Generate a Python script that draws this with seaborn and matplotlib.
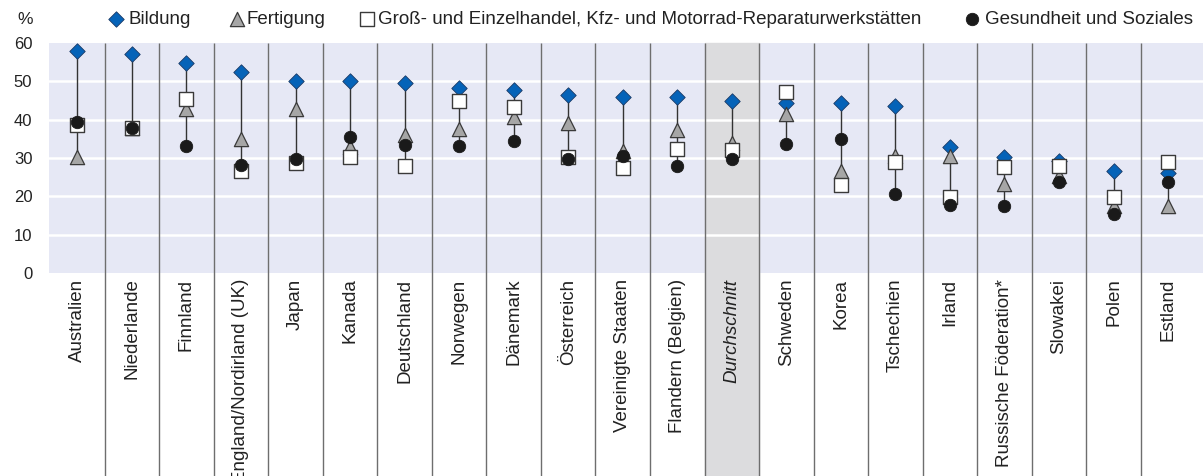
import numpy as np
import pandas as pd
import matplotlib.pyplot as plt
import seaborn as sns

# Data
countries = ["Australien", "Niederlande", "Finnland", "England/Nordirland (UK)", "Japan",
             "Kanada", "Deutschland", "Norwegen", "Dänemark", "Österreich",
             "Vereinigte Staaten", "Flandern (Belgien)", "Durchschnitt", "Schweden",
             "Korea", "Tschechien", "Irland", "Russische Föderation*", "Slowakei",
             "Polen", "Estland"]
bildung = [57.8, 57.2, 54.9, 52.4, 50.1, 50.0, 49.5, 48.2, 47.8, 46.4, 45.8,
           45.8, 44.8, 44.3, 44.3, 43.6, 32.8, 30.2, 29.1, 26.5, 26.0]
fertigung = [30.3, 37.8, 42.7, 35.0, 42.9, 33.0, 36.0, 37.5, 40.8, 39.2, 31.7,
             37.2, 33.8, 41.4, 26.5, 30.5, 30.5, 23.2, 25.2, 17.5, 17.5]
handel = [38.5, 37.7, 45.4, 26.5, 28.6, 30.2, 27.8, 45.0, 43.3, 30.2, 27.3,
          32.3, 32.1, 47.3, 22.9, 29.0, 19.9, 27.6, 27.8, 19.9, 29.0]
gesundheit = [39.3, 37.7, 33.2, 28.2, 29.8, 35.4, 33.4, 33.2, 34.5, 29.7, 30.6,
              27.8, 29.7, 33.6, 35.0, 20.5, 17.8, 17.5, 23.8, 15.3, 23.8]

labels = ["Bildung", "Fertigung",
          "Groß- und Einzelhandel, Kfz- und Motorrad-Reparaturwerkstätten",
          "Gesundheit und Soziales"]

df = pd.DataFrame({"land": countries, "pos": np.arange(len(countries)),
                   labels[0]: bildung, labels[1]: fertigung,
                   labels[2]: handel, labels[3]: gesundheit})
long = df.melt(id_vars=["land", "pos"], var_name="bereich", value_name="wert")

sns.set_style("white")
plt.rcParams["font.family"] = ["Liberation Sans", "DejaVu Sans"]
txt = "#222222"

W, H = 1203, 476
fig = plt.figure(figsize=(W / 100, H / 100), dpi=100)
ax = fig.add_axes([49 / W, (H - 273) / H, (W - 49) / W, 230 / H])
ax.set_facecolor("#E6E8F5")
ax.set_xlim(-0.52, 20.64)
ax.set_ylim(0, 60)

for y in [10, 20, 30, 40, 50]:
    ax.axhline(y, color="white", lw=1.8, zorder=1)

low = -(H - 273) / 230
avg = countries.index("Durchschnitt")
ax.axvspan(avg - 0.5, avg + 0.5, ymin=low, ymax=1, color="#DCDCDE",
           zorder=0.5, clip_on=False)
ax.vlines(np.arange(len(countries) - 1) + 0.5, low, 1,
          transform=ax.get_xaxis_transform(), colors="#6e6e6e", lw=1,
          clip_on=False, zorder=1.5)

# range lines
ax.vlines(df["pos"], df[labels].min(axis=1), df[labels].max(axis=1),
          colors="#333333", lw=1, zorder=2)

styles = {
    labels[0]: dict(marker="D", s=62, color="#0563B8", edgecolor="#1b3a66", linewidth=0.6),
    labels[1]: dict(marker="^", s=105, color="#A6A6A6", edgecolor="#3a3a3a", linewidth=0.9),
    labels[2]: dict(marker="s", s=95, color="white", edgecolor="#3a3a3a", linewidth=1.0),
    labels[3]: dict(marker="o", s=80, color="#1a1a1a", edgecolor="#1a1a1a", linewidth=0.6),
}
for i, lab in enumerate(labels):
    sub = long[long["bereich"] == lab]
    sns.scatterplot(data=sub, x="pos", y="wert", ax=ax, legend=False,
                    zorder=3 + i, **styles[lab])

for sp in ax.spines.values():
    sp.set_visible(False)
ax.set_xlabel("")
ax.set_ylabel("")
ax.set_yticks([0, 10, 20, 30, 40, 50, 60])
ax.set_xticks(df["pos"])
ax.set_xticklabels(countries, rotation=90, va="top", ha="center", fontsize=13.5, color=txt)
ax.get_xticklabels()[avg].set_style("italic")
ax.tick_params(axis="x", length=0, pad=4)
ax.tick_params(axis="y", length=0, pad=12, labelsize=12, labelcolor=txt)

# legend row on top
lax = fig.add_axes([0, 0, 1, 1], facecolor="none")
lax.set_xlim(0, W)
lax.set_ylim(H, 0)
lax.axis("off")
ly = 19
lax.text(25, ly, "%", ha="center", va="center", fontsize=12.5, color=txt)
pos_marker = [116, 237, 367, 972]
pos_text = [129, 247, 378, 985]
for lab, mx, tx in zip(labels, pos_marker, pos_text):
    st = dict(styles[lab])
    lax.scatter([mx], [ly], **st)
    lax.text(tx, ly + 0.5, lab, ha="left", va="center", fontsize=13.5, color=txt)

fig.savefig("out.png", dpi=100)
